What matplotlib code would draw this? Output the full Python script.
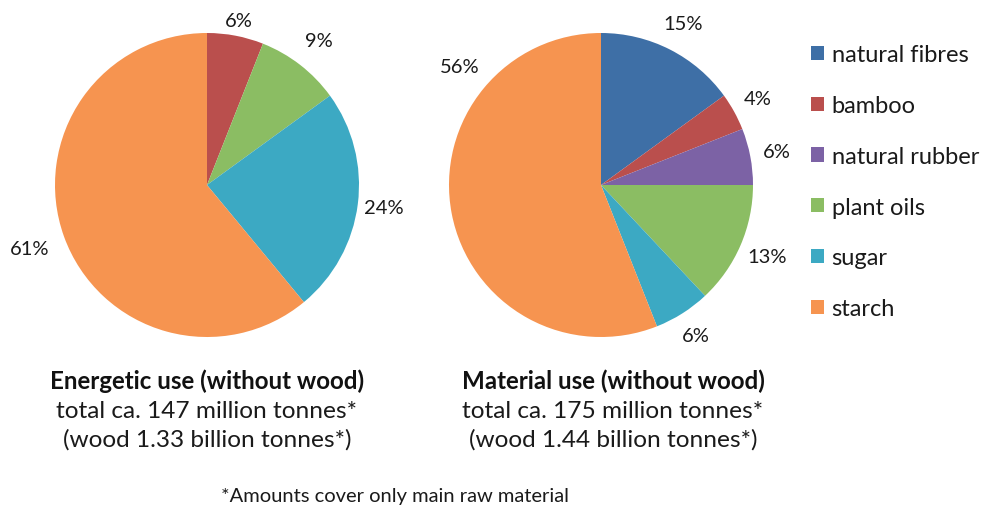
import numpy as np
import matplotlib.pyplot as plt

# data
categories = ['natural fibres', 'bamboo', 'natural rubber', 'plant oils', 'sugar', 'starch']
energetic_share = [0, 6, 0, 9, 24, 61]      # percent, zero = not present
material_share = [15, 4, 6, 13, 6, 56]
colors = ['#3E6FA6', '#BA4F4D', '#7C62A5', '#8BBD63', '#3CA9C3', '#F69450']

energetic_title = 'Energetic use (without wood)'
energetic_sub = ['total ca. 147 million tonnes*', '(wood 1.33 billion tonnes*)']
material_title = 'Material use (without wood)'
material_sub = ['total ca. 175 million tonnes*', '(wood 1.44 billion tonnes*)']
footnote = '*Amounts cover only main raw material'

plt.rcParams['font.family'] = ['Lato', 'DejaVu Sans']
W, H = 984, 510
fig = plt.figure(figsize=(W / 100, H / 100), dpi=100)
R = 152  # pie radius in pixels


def pie_axes(cx, cy):
    return fig.add_axes([(cx - R) / W, (H - cy - R) / H, 2 * R / W, 2 * R / H])


def draw_pie(ax, shares, dists, moved=None):
    vals = [v for v in shares if v > 0]
    cols = [c for v, c in zip(shares, colors) if v > 0]
    labs = ['%d%%' % v for v in vals]
    wedges, texts = ax.pie(vals, colors=cols, labels=labs, startangle=90, counterclock=False,
                           wedgeprops=dict(linewidth=0),
                           textprops=dict(fontsize=14.5, color='#1a1a1a'))
    # excel style "best fit": labels centred a bit outside each wedge
    for i, (w, t) in enumerate(zip(wedges, texts)):
        ang = (w.theta1 + w.theta2) / 2
        if moved and i in moved:
            ang = moved[i]
        a = np.deg2rad(ang)
        t.set_position((dists[i] * np.cos(a), dists[i] * np.sin(a)))
        t.set_ha('center')
        t.set_va('center')
    ax.set_xlim(-1, 1)
    ax.set_ylim(-1, 1)
    return wedges


ax1 = pie_axes(207, 186)
draw_pie(ax1, energetic_share, [1.1, 1.2, 1.17, 1.24])

ax2 = pie_axes(601, 186)
wedges2 = draw_pie(ax2, material_share, [1.19, 1.18, 1.18, 1.19, 1.17, 1.21], moved={5: 140})

# legend
fig.legend(wedges2, categories, loc='upper left', bbox_to_anchor=(802 / W, 1 - 36 / H),
           frameon=False, fontsize=17, handlelength=0.55, handleheight=0.55,
           handletextpad=0.3, labelspacing=1.26, borderaxespad=0)
for t in fig.legends[0].get_texts():
    t.set_color('#1a1a1a')

# captions under the pies
for cx, title, sub in [(207, energetic_title, energetic_sub), (613, material_title, material_sub)]:
    fig.text(cx / W, 1 - 381 / H, title, ha='center', va='center', fontsize=17.4,
             fontweight='bold', color='#111111')
    fig.text(cx / W, 1 - 411 / H, sub[0], ha='center', va='center', fontsize=17.6, color='#1a1a1a')
    fig.text(cx / W, 1 - 440 / H, sub[1], ha='center', va='center', fontsize=17.6, color='#1a1a1a')

fig.text(395 / W, 1 - 497 / H, footnote, ha='center', va='center', fontsize=14.5, color='#1a1a1a')

fig.savefig('out.png', dpi=100)
